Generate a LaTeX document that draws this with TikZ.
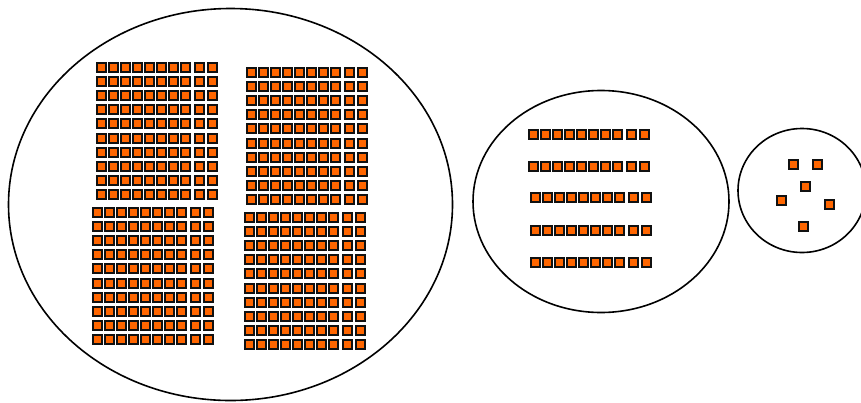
\documentclass[tikz,border=0pt]{standalone}
\usepackage{xcolor}
\definecolor{cubeorange}{HTML}{FF6600}
\definecolor{cubeedge}{HTML}{111111}
\usepackage{tikz}
\usetikzlibrary{positioning,calc}

% one unit cube, its top left corner at (#1,#2), in pixels
\newcommand{\unitcube}[2]{\draw[cube] ($(#1,#2)+(1,1)$) rectangle ++(9,9);}
% a rod of ten cubes
\newcommand{\tenrod}[2]{%
  \foreach \dx in {0,12,24,36,48,60,72,84,98,111}{\unitcube{#1+\dx}{#2}}}
% a flat of ten rods
\newcommand{\hundredflat}[2]{%
  \foreach \rw in {0,...,9}{\tenrod{#1}{#2+14.1*\rw}}}

\begin{document}
\begin{tikzpicture}[
  x=1pt, y=-1pt,
  cube/.style={draw=cubeedge, fill=cubeorange, line width=2pt},
  ring/.style={draw=black, line width=1.6pt}
]
  \useasboundingbox (0,0) rectangle (861,402);

  % hundreds
  \draw[ring] (230.5,204.5) ellipse [x radius=222, y radius=196];
  \hundredflat{96}{62}
  \hundredflat{246}{67}
  \hundredflat{92}{207}
  \hundredflat{244}{212}

  % tens
  \draw[ring] (601,201.5) ellipse [x radius=128, y radius=111];
  \tenrod{528}{129}
  \tenrod{528}{161}
  \tenrod{530}{192}
  \tenrod{530}{225}
  \tenrod{530}{257}

  % ones
  \draw[ring] (802,190.5) ellipse [x radius=64, y radius=62];
  \foreach \ox/\oy in {788/159, 812/159, 800/181, 776/195, 824/199, 798/221}
    {\unitcube{\ox}{\oy}}

\end{tikzpicture}
\end{document}
